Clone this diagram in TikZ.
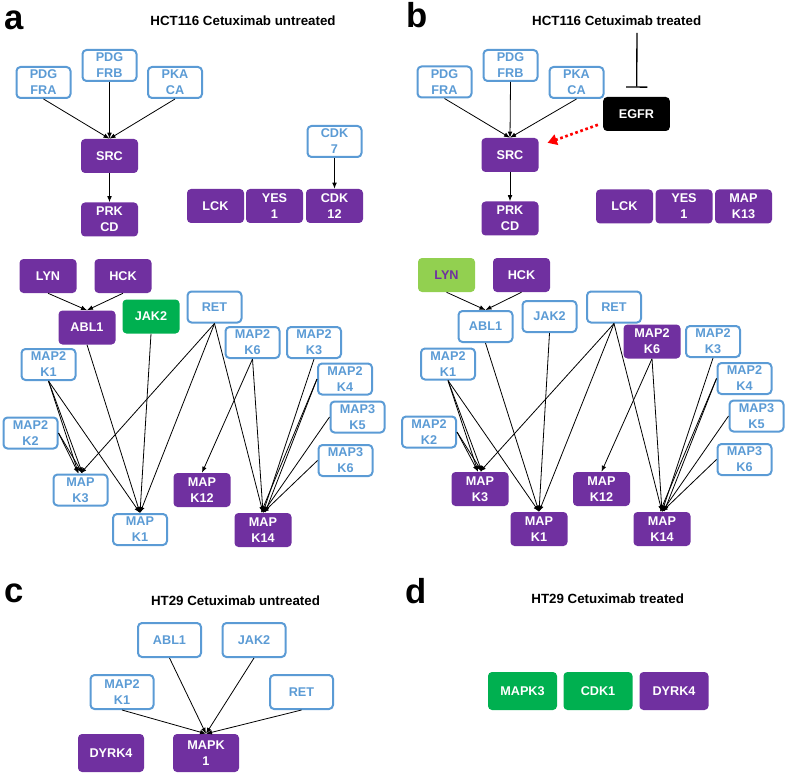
\documentclass[tikz,border=0pt]{standalone}
\usepackage{fontspec}
\setmainfont{Liberation Sans}
\usetikzlibrary{arrows.meta}

\definecolor{kblue}{HTML}{5B9BD5}
\definecolor{kpurple}{HTML}{7030A0}
\definecolor{kgreen}{HTML}{00B050}
\definecolor{klgreen}{HTML}{92D050}

\tikzset{
  kin/.style={rounded corners=3pt, inner sep=0pt, align=center, font=\fontsize{9.5}{12}\selectfont\bfseries},
  blu/.style={kin, draw=kblue, line width=1.5pt, text=kblue, fill=white, minimum width=40.5pt, minimum height=23.25pt},
  pur/.style={kin, fill=kpurple, text=white, minimum width=42.75pt, minimum height=25.5pt},
  grn/.style={pur, fill=kgreen},
  lgr/.style={pur, fill=klgreen, text=kpurple},
  blk/.style={pur, fill=black, minimum width=50pt},
  bluc/.style={blu, minimum width=47.25pt, minimum height=25.5pt},
  purc/.style={pur, minimum width=49.5pt, minimum height=28.5pt},
  purd/.style={pur, minimum width=51.75pt, minimum height=28.5pt},
  grnd/.style={purd, fill=kgreen},
  arr/.style={-{Latex[length=4.5pt,width=3.5pt]}, line width=0.6pt},
  inh/.style={-{Bar[width=16pt,line width=1pt]}, line width=1pt, shorten >=6.75pt},
  rdot/.style={red, line width=2pt, dash pattern=on 2pt off 2pt, -{Triangle[length=7pt,width=8pt]}, shorten <=4pt, shorten >=7pt},
  ttl/.style={font=\fontsize{10}{12}\selectfont\bfseries, anchor=base, inner sep=0pt},
  lbl/.style={font=\fontsize{26}{30}\selectfont\bfseries, anchor=base west, inner sep=0pt}
}

\begin{document}
\begin{tikzpicture}[x=0.75pt, y=-0.75pt]
\useasboundingbox (0,0) rectangle (787,773);

\node[lbl] (alabel) at (4,30) {a};
\node[lbl] (blabel) at (406,28) {b};
\node[lbl] (clabel) at (4,602) {c};
\node[lbl] (dlabel) at (405,603) {d};

\node[ttl] (atitle) at (243,26) {HCT116 Cetuximab untreated};
\node[ttl] (btitle) at (616.7,26) {HCT116 Cetuximab treated};
\node[ttl] (ctitle) at (235.5,605) {HT29 Cetuximab untreated};
\node[ttl] (dtitle) at (607.7,603) {HT29 Cetuximab treated};

\node[blu] (apdgfra) at (43.5,82.5) {PDG\\FRA};
\node[blu] (apdgfrb) at (109.5,65.5) {PDG\\FRB};
\node[blu] (apkaca) at (175,82.5) {PKA\\CA};
\node[pur] (asrc) at (109.5,156) {SRC};
\node[pur] (aprkcd) at (109.5,219.5) {PRK\\CD};
\node[blu] (acdk7) at (334.5,141.5) {CDK\\7};
\node[pur] (alck) at (215.5,206) {LCK};
\node[pur] (ayes1) at (274.5,206) {YES\\1};
\node[pur] (acdk12) at (334.5,206) {CDK\\12};

\draw[arr] (apdgfra.south) -- (asrc.north);
\draw[arr] (apdgfrb.south) -- (asrc.north);
\draw[arr] (apkaca.south) -- (asrc.north);
\draw[arr] (asrc) -- (aprkcd);
\draw[arr] (acdk7) -- (acdk12);

\node[pur] (alyn) at (48,276) {LYN};
\node[pur] (ahck) at (123,276) {HCK};
\node[pur] (aabl1) at (87,327.5) {ABL1};
\node[grn] (ajak2) at (151,316.5) {JAK2};
\node[blu] (aret) at (214.5,307) {RET};
\node[blu] (amap2k1) at (48.5,364.5) {MAP2\\K1};
\node[blu] (amap2k2) at (30.5,433) {MAP2\\K2};
\node[blu] (amap2k6) at (252.5,342.5) {MAP2\\K6};
\node[blu] (amap2k3) at (314,342.5) {MAP2\\K3};
\node[blu] (amap2k4) at (345,379) {MAP2\\K4};
\node[blu] (amap3k5) at (357.5,417) {MAP3\\K5};
\node[blu] (amap3k6) at (345.5,460.5) {MAP3\\K6};
\node[blu] (amapk3) at (80.5,490) {MAP\\K3};
\node[blu] (amapk1) at (140,529.5) {MAP\\K1};
\node[pur] (amapk12) at (202,490) {MAP\\K12};
\node[pur] (amapk14) at (263,530) {MAP\\K14};

\draw[arr] (alyn.south) -- (aabl1.north);
\draw[arr] (ahck.south) -- (aabl1.north);
\draw[arr] (aabl1.south) -- (amapk1.north);
\draw[arr] (ajak2.south) -- (amapk1.north);
\draw[arr] (aret.south) -- (amapk3.north);
\draw[arr] (aret.south) -- (amapk1.north);
\draw[arr] (aret.south) -- (amapk14.north);
\draw[arr] (amap2k1.south) -- ([xshift=-1.5pt]amapk3.north);
\draw[arr] (amap2k1.south) -- ([xshift=1.5pt]amapk3.north);
\draw[arr] (amap2k1.south) -- (amapk1.north);
\draw[arr] (amap2k2.east) -- ([xshift=-1.5pt]amapk3.north);
\draw[arr] (amap2k2.east) -- ([xshift=1.5pt]amapk3.north);
\draw[arr] (amap2k6.south) -- (amapk12.north);
\draw[arr] (amap2k6.south) -- (amapk14.north);
\draw[arr] (amap2k3.south) -- (amapk14.north);
\draw[arr] (amap2k4.west) -- ([xshift=-1.5pt]amapk14.north);
\draw[arr] (amap2k4.west) -- ([xshift=1.5pt]amapk14.north);
\draw[arr] (amap3k5.west) -- (amapk14.north);
\draw[arr] (amap3k6.west) -- (amapk14.north);

\node[blu] (bpdgfra) at (444.5,82) {PDG\\FRA};
\node[blu] (bpdgfrb) at (510.5,65.5) {PDG\\FRB};
\node[blu] (bpkaca) at (576.5,82.5) {PKA\\CA};
\node[blk] (begfr) at (636.5,114) {EGFR};
\node[pur] (bsrc) at (510,155) {SRC};
\node[pur] (bprkcd) at (510,218.5) {PRK\\CD};
\node[pur] (blck) at (624.5,206.5) {LCK};
\node[pur] (byes1) at (684,206.5) {YES\\1};
\node[pur] (bmapk13) at (743.5,206.5) {MAP\\K13};
\coordinate (btop) at (637,33);

\draw[arr] (bpdgfra.south) -- (bsrc.north);
\draw[arr] (bpdgfrb.south) -- (bsrc.north);
\draw[arr] (bpkaca.south) -- (bsrc.north);
\draw[arr] (bsrc) -- (bprkcd);
\draw[inh] (btop) -- (begfr);
\draw[rdot] ([yshift=-6.75pt]begfr.west) -- ([yshift=6.75pt]bsrc.east);

\node[lgr] (blyn) at (446.5,275) {LYN};
\node[pur] (bhck) at (521.5,275) {HCK};
\node[blu] (babl1) at (485.5,326.5) {ABL1};
\node[blu] (bjak2) at (549.5,316.5) {JAK2};
\node[blu] (bret) at (614,307) {RET};
\node[blu] (bmap2k1) at (448,364) {MAP2\\K1};
\node[blu] (bmap2k2) at (429,432) {MAP2\\K2};
\node[pur] (bmap2k6) at (652,341.5) {MAP2\\K6};
\node[blu] (bmap2k3) at (713,341.5) {MAP2\\K3};
\node[blu] (bmap2k4) at (744.5,378.5) {MAP2\\K4};
\node[blu] (bmap3k5) at (756.5,416) {MAP3\\K5};
\node[blu] (bmap3k6) at (744.5,459.5) {MAP3\\K6};
\node[pur] (bmapk3) at (480,489) {MAP\\K3};
\node[pur] (bmapk1) at (539,529) {MAP\\K1};
\node[pur] (bmapk12) at (601.5,489) {MAP\\K12};
\node[pur] (bmapk14) at (662,529) {MAP\\K14};

\draw[arr] (blyn.south) -- (babl1.north);
\draw[arr] (bhck.south) -- (babl1.north);
\draw[arr] (babl1.south) -- (bmapk1.north);
\draw[arr] (bjak2.south) -- (bmapk1.north);
\draw[arr] (bret.south) -- (bmapk3.north);
\draw[arr] (bret.south) -- (bmapk1.north);
\draw[arr] (bret.south) -- (bmapk14.north);
\draw[arr] (bmap2k1.south) -- ([xshift=-1.5pt]bmapk3.north);
\draw[arr] (bmap2k1.south) -- ([xshift=1.5pt]bmapk3.north);
\draw[arr] (bmap2k1.south) -- (bmapk1.north);
\draw[arr] (bmap2k2.east) -- ([xshift=-1.5pt]bmapk3.north);
\draw[arr] (bmap2k2.east) -- ([xshift=1.5pt]bmapk3.north);
\draw[arr] (bmap2k6.south) -- (bmapk12.north);
\draw[arr] (bmap2k6.south) -- (bmapk14.north);
\draw[arr] (bmap2k3.south) -- (bmapk14.north);
\draw[arr] (bmap2k4.west) -- ([xshift=-1.5pt]bmapk14.north);
\draw[arr] (bmap2k4.west) -- ([xshift=1.5pt]bmapk14.north);
\draw[arr] (bmap3k5.west) -- (bmapk14.north);
\draw[arr] (bmap3k6.west) -- (bmapk14.north);

\node[bluc] (cabl1) at (169.5,640) {ABL1};
\node[bluc] (cjak2) at (254,640) {JAK2};
\node[bluc] (cmap2k1) at (122,692) {MAP2\\K1};
\node[bluc] (cret) at (301.5,692) {RET};
\node[purc] (cdyrk4) at (111,753) {DYRK4};
\node[purc] (cmapk1) at (206,753) {MAPK\\1};

\draw[arr] (cmap2k1.south) -- (cmapk1.north);
\draw[arr] (cabl1.south) -- (cmapk1.north);
\draw[arr] (cjak2.south) -- (cmapk1.north);
\draw[arr] (cret.south) -- (cmapk1.north);

\node[grnd] (dmapk3) at (522.5,691) {MAPK3};
\node[grnd] (dcdk1) at (598,691) {CDK1};
\node[purd] (ddyrk4) at (674,691) {DYRK4};
\end{tikzpicture}
\end{document}
